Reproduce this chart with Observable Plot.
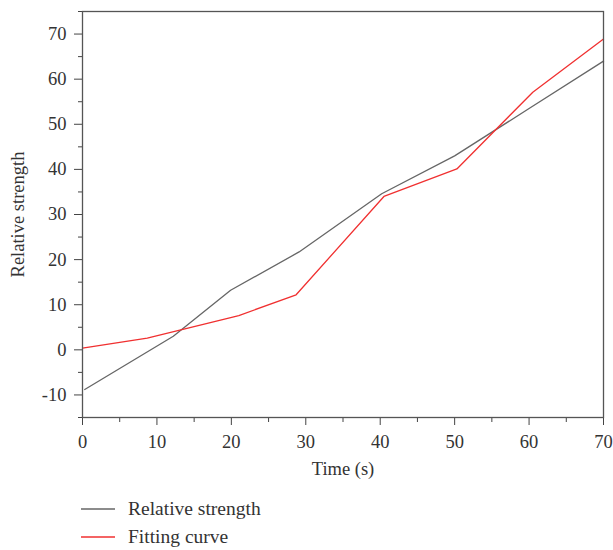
<!DOCTYPE html>
<html><head><meta charset="utf-8">
<script src="https://cdn.jsdelivr.net/npm/d3@7"></script>
<script src="https://cdn.jsdelivr.net/npm/@observablehq/plot@0.6"></script>
<style>
body{margin:0;background:#fff;font-family:"Liberation Serif",serif;position:relative;width:613px;height:550px;overflow:hidden;}
#legend{position:absolute;left:0;top:0;}
.item{position:absolute;display:flex;align-items:center;font-size:19.5px;color:#333;white-space:nowrap;}
.item svg{margin-right:13px;}
</style></head><body><div id="chart"></div><div id="legend"></div>
<script>
const strengthTime = [0.3, 12.2, 19.9, 29.1, 40.2, 50, 60, 70];
const strengthValue = [-8.8, 3, 13.2, 21.7, 34.6, 43, 53.5, 64];
const fitTime = [0, 8.7, 21, 28.7, 40.5, 50.3, 60.5, 70];
const fitValue = [0.4, 2.6, 7.6, 12.2, 34.0, 40.1, 57.1, 68.9];
const seriesNames = ["Relative strength", "Fitting curve"];
const seriesColors = ["#666666", "#f03030"];
const xTicks = [0, 10, 20, 30, 40, 50, 60, 70];
const yTicks = [-10, 0, 10, 20, 30, 40, 50, 60, 70];

const strength = strengthTime.map((t, i) => ({t, v: strengthValue[i]}));
const fit = fitTime.map((t, i) => ({t, v: fitValue[i]}));
const xMinor = d3.range(5, 70, 10);
const yMinor = d3.range(-15, 76, 10);
const fmt = d => String(d);

const chart = Plot.plot({
  width: 613, height: 480,
  marginLeft: 82, marginRight: 10, marginTop: 11, marginBottom: 63,
  style: {fontFamily: "Liberation Serif, serif", fontSize: "18.5px", color: "#333", background: "#fff"},
  x: {domain: [0, 70]},
  y: {domain: [-15, 75]},
  marks: [
    Plot.axisX({ticks: xMinor, tickSize: 5, tickFormat: () => "", label: null, stroke: "#444"}),
    Plot.axisX({ticks: xTicks, tickSize: 8, tickPadding: 9, tickFormat: fmt, stroke: "#444", label: "Time (s)", labelAnchor: "center", labelOffset: 57, labelArrow: "none"}),
    Plot.axisY({ticks: yMinor, tickSize: 4, tickFormat: () => "", label: null, stroke: "#444"}),
    Plot.axisY({ticks: yTicks, tickSize: 8, tickPadding: 8, tickFormat: fmt, stroke: "#444", label: "Relative strength", labelAnchor: "center", labelOffset: 72, labelArrow: "none"}),
    Plot.line(strength, {x: "t", y: "v", stroke: seriesColors[0], strokeWidth: 1.3}),
    Plot.line(fit, {x: "t", y: "v", stroke: seriesColors[1], strokeWidth: 1.3}),
    Plot.frame({stroke: "#555", strokeWidth: 1.3})
  ]
});
document.getElementById("chart").appendChild(chart);

const legend = document.getElementById("legend");
const tops = [498, 526];
seriesNames.forEach((n, i) => {
  const d = document.createElement("div");
  d.className = "item";
  d.style.left = "81px";
  d.style.top = tops[i] + "px";
  d.innerHTML = `<svg width="34" height="4"><line x1="0" x2="34" y1="2" y2="2" stroke="${seriesColors[i]}" stroke-width="1.3"/></svg><span>${n}</span>`;
  legend.appendChild(d);
});
</script>
</body></html>
